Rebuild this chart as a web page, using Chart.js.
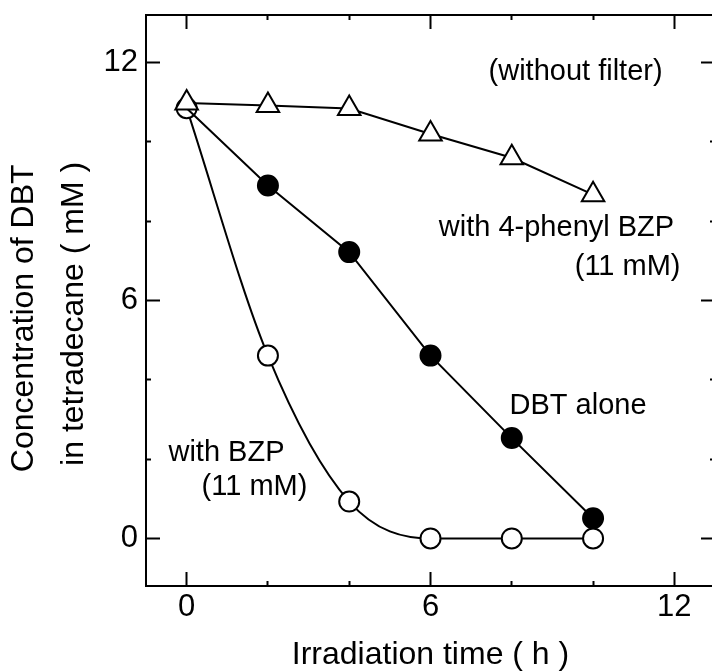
<!DOCTYPE html>
<html>
<head>
<meta charset="utf-8">
<script src="https://cdn.jsdelivr.net/npm/chart.js@4.4.1/dist/chart.umd.min.js"></script>
<style>
  html, body { margin: 0; padding: 0; background: #fff; overflow: hidden; }
  #wrap { width: 712px; height: 672px; overflow: hidden; }
</style>
</head>
<body>
<div id="wrap"><canvas id="grafico" width="730" height="672"></canvas></div>
<script>
// datos
const timeH = [0, 2, 4, 6, 8, 10];
const withPhenylBzp = [10.98, 10.92, 10.84, 10.2, 9.6, 8.67];
const dbtAlone = [10.85, 8.9, 7.22, 4.61, 2.53, 0.51];
const withBzp = [10.85, 4.61, 0.93, 0, 0, 0];

const xTicks = [0, 2, 4, 6, 8, 10, 12];
const yTicks = [0, 2, 4, 6, 8, 10, 12];
const majorTicks = [0, 6, 12];

// textos dentro del grafico (x, y en unidades de datos)
const noteText = ["(without filter)", "with 4-phenyl BZP", "(11 mM)", "DBT alone", "with BZP", "(11 mM)"];
const noteX = [9.57, 9.1, 10.85, 9.63, 0.98, 1.67];
const noteY = [11.75, 7.82, 6.84, 3.35, 2.16, 1.3];

const fuente = '"Liberation Sans", Arial, sans-serif';

function puntos(ys) {
  return timeH.map((t, i) => ({ x: t, y: ys[i] }));
}

// ticks largos en 0, 6, 12 y cortos en el resto
function rayita(desdeBorde) {
  return (ctx) => {
    if (!ctx.tick || majorTicks.includes(ctx.tick.value)) return [];
    return desdeBorde ? [6, 100] : [0, 9, 6, 100];
  };
}

function eje(pos, min, max, vals, tam, conTexto, desdeBorde) {
  const horiz = pos === 'top' || pos === 'bottom';
  return {
    type: 'linear',
    position: pos,
    min: min,
    max: max,
    afterBuildTicks: (s) => { s.ticks = vals.map(v => ({ value: v })); },
    afterFit: (s) => {
      if (horiz) s.height = tam; else s.width = tam;
      // sin margen extra por las etiquetas
      s.paddingTop = 0; s.paddingBottom = 0; s.paddingLeft = 0; s.paddingRight = 0;
    },
    grid: {
      drawOnChartArea: false,
      tickLength: -14,
      tickColor: '#000',
      tickWidth: 2,
      tickBorderDash: rayita(desdeBorde)
    },
    border: { display: true, color: '#000', width: 2 },
    ticks: {
      color: '#000',
      font: { family: fuente, size: 31 },
      padding: horiz ? 17 : 22,
      maxRotation: 0,
      autoSkip: false,
      callback: (v) => (conTexto && majorTicks.includes(v)) ? String(v) : ''
    }
  };
}

const notas = {
  id: 'notas',
  afterDatasetsDraw(chart) {
    const c = chart.ctx;
    const sx = chart.scales.x, sy = chart.scales.y;
    c.save();
    c.fillStyle = '#000';
    c.font = '29px ' + fuente;
    c.textAlign = 'center';
    c.textBaseline = 'middle';
    for (let i = 0; i < noteText.length; i++) {
      c.fillText(noteText[i], sx.getPixelForValue(noteX[i]), sy.getPixelForValue(noteY[i]));
    }
    c.restore();
  }
};

const ejeX = eje('bottom', -1, 13, xTicks, 86, true, true);
ejeX.title = {
  display: true,
  text: 'Irradiation time ( h )',
  color: '#000',
  font: { family: fuente, size: 32, lineHeight: 1 },
  padding: { top: 0, bottom: 1 }
};
const ejeY = eje('left', -1.2, 13.2, yTicks, 146, true, false);
// los espacios al final bajan un poco el texto girado
ejeY.title = {
  display: true,
  text: ['Concentration of DBT    ', 'in tetradecane ( mM )   '],
  color: '#000',
  font: { family: fuente, size: 32, lineHeight: 1.54 },
  padding: { top: 0, bottom: 0 }
};

new Chart(document.getElementById('grafico').getContext('2d'), {
  type: 'line',
  data: {
    datasets: [
      {
        label: 'with 4-phenyl BZP',
        data: puntos(withPhenylBzp),
        borderColor: '#000',
        borderWidth: 2,
        pointStyle: 'triangle',
        pointRadius: 13,
        pointBackgroundColor: '#fff',
        pointBorderColor: '#000',
        pointBorderWidth: 2
      },
      {
        label: 'DBT alone',
        data: puntos(dbtAlone),
        borderColor: '#000',
        borderWidth: 2,
        pointStyle: 'circle',
        pointRadius: [0, 10, 10, 10, 10, 10],
        pointBackgroundColor: '#000',
        pointBorderColor: '#000',
        pointBorderWidth: 2
      },
      {
        label: 'with BZP',
        data: puntos(withBzp),
        borderColor: '#000',
        borderWidth: 2,
        cubicInterpolationMode: 'monotone',
        pointStyle: 'circle',
        pointRadius: 10,
        pointBackgroundColor: '#fff',
        pointBorderColor: '#000',
        pointBorderWidth: 2
      }
    ]
  },
  options: {
    responsive: false,
    animation: false,
    layout: { padding: 0 },
    plugins: { legend: { display: false }, tooltip: { enabled: false } },
    scales: {
      x: ejeX,
      x2: eje('top', -1, 13, xTicks, 14, false, false),
      y: ejeY,
      y2: eje('right', -1.2, 13.2, yTicks, 10, false, true)
    }
  },
  plugins: [notas]
});
</script>
</body>
</html>
